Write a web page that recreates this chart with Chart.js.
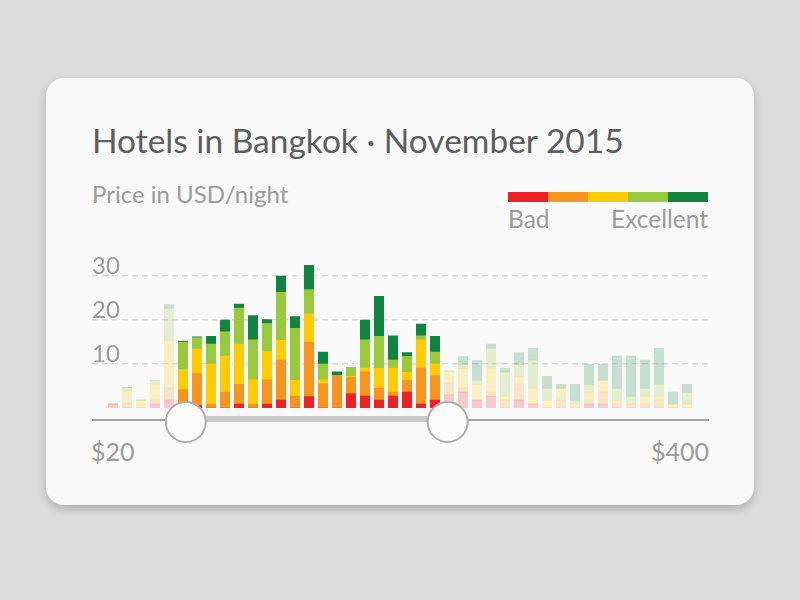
<!DOCTYPE html>
<html>
<head>
<meta charset="utf-8">
<script src="https://cdn.jsdelivr.net/npm/chart.js@4/dist/chart.umd.min.js"></script>
<style>
  html, body { margin: 0; padding: 0; width: 800px; height: 600px; background: #dcdcdc; overflow: hidden; }
  body { font-family: Lato, "Noto Sans", sans-serif; }
  .card { position: absolute; left: 46px; top: 78px; width: 708px; height: 427px; background: #f9f9f9;
          border-radius: 18px; box-shadow: 0 4px 10px rgba(0,0,0,0.22); }
  .txt { position: absolute; line-height: 1; white-space: nowrap; }
  #title { left: 92px; top: 123.5px; font-size: 33.5px; color: #5e5e5e; }
  #sub { left: 92px; top: 181.5px; font-size: 24px; color: #9b9b9b; }
  #bad { left: 508px; top: 206.5px; font-size: 24.5px; color: #9b9b9b; }
  #exc { right: 92px; top: 206.5px; font-size: 24.5px; color: #9b9b9b; }
  #lo { left: 91px; top: 439px; font-size: 25px; color: #9b9b9b; }
  #hi { right: 91px; top: 439px; font-size: 25px; color: #9b9b9b; }
  .scale { position: absolute; left: 508px; top: 192px; height: 10px; width: 200px; display: flex; }
  .scale div { flex: 1; }
  #wrap { position: absolute; left: 0; top: 0; width: 800px; height: 600px; }
</style>
</head>
<body>
<div class="card"></div>
<div class="txt" id="title">Hotels in Bangkok · November 2015</div>
<div class="txt" id="sub">Price in USD/night</div>
<div class="scale" id="scale"></div>
<div class="txt" id="bad">Bad</div>
<div class="txt" id="exc">Excellent</div>
<div class="txt" id="lo">$20</div>
<div class="txt" id="hi">$400</div>
<div id="wrap"><canvas id="myChart"></canvas></div>
<script>
// hotel counts per price bucket, split by rating
let ratings = ['Bad', 'Poor', 'Average', 'Good', 'Excellent'];
let colorHex = ['#ed2125', '#f7941e', '#ffcb05', '#98c93c', '#10843f'];
let bad       = [0.9,0,0,0.9,1.8, 0,0.5,0,0,0.9, 0,0.9,1.8,0,2.6, 0,0,3.3,2.7,1.8, 2.7,3.6,0.9,1.8,3.0, 3.6,1.8,2.7,0,1.8, 0.9,0,0,0,0.9, 0.9,0,0,0,0, 0,0];
let poor      = [0,1.0,0,0.9,2.7, 4.2,7.3,0.9,3.6,4.5, 0.9,5.5,9.1,2.7,12.4, 5.5,7.3,3.6,5.5,2.7, 0.9,2.7,8.2,5.5,2.7, 0.9,0,0.9,1.8,3.6, 0,0,1.8,0,0.9, 2.7,0.9,0.9,0.9,1.8, 0,0];
let average   = [0,2.9,1.8,3.7,10.9, 4.6,5.6,9.1,8.2,9.1, 5.5,6.4,4.5,3.6,6.4, 0.9,0,0.3,0.9,4.5, 5.5,1.8,6.4,2.7,2.7, 4.5,3.6,5.5,0.9,1.8, 3.6,1.8,2.7,0.9,1.8, 2.7,0.9,0,1.8,0.9, 0.9,0.9];
let good      = [0,0.8,0,0.8,7.3, 6.2,2.6,4.5,5.5,8.2, 9.1,6.4,10.9,11.8,5.5, 3.6,0,2.0,6.4,7.3, 1.8,3.6,0.9,2.7,0, 0.9,0.9,4.5,5.5,2.7, 6.4,2.7,0,0.9,1.8, 0,2.7,1.8,1.8,2.7, 0,2.7];
let excellent = [0,0,0,0,0.8, 0.2,0.2,1.8,2.7,0.9, 5.5,0.9,3.7,2.7,5.5, 2.7,0.9,0,4.5,9.1, 5.5,0.9,2.7,3.6,0, 1.8,4.5,0.9,0.9,2.7, 2.7,2.7,0.9,3.6,4.5, 3.6,7.3,9.1,6.4,8.2, 2.7,1.8];
let yTicks = [10, 20, 30];
// selected price range (bucket index) and slider handle positions
let selFrom = 5, selTo = 23;
let handles = [5.2, 23.9];

let series = [bad, poor, average, good, excellent];

function fade(hex, a) {
  let r = parseInt(hex.slice(1,3),16), g = parseInt(hex.slice(3,5),16), b = parseInt(hex.slice(5,7),16);
  return 'rgba(' + r + ',' + g + ',' + b + ',' + a + ')';
}

document.getElementById('scale').innerHTML = colorHex.map(c => '<div style="background:' + c + '"></div>').join('');

let sliderPlugin = {
  id: 'slider',
  afterDatasetsDraw(chart) {
    let c = chart.ctx, x = chart.scales.x, area = chart.chartArea;
    let h1 = x.getPixelForValue(handles[0]), h2 = x.getPixelForValue(handles[1]);
    c.save();
    c.fillStyle = '#a3a3a3';
    c.fillRect(area.left, 419, area.right - area.left, 2);
    c.fillStyle = '#cbcbcb';
    c.fillRect(h1, 416, h2 - h1, 6);
    [h1, h2].forEach(px => {
      c.beginPath();
      c.arc(px, 422, 20, 0, Math.PI * 2);
      c.fillStyle = '#fafafa';
      c.fill();
      c.lineWidth = 2;
      c.strokeStyle = '#adadad';
      c.stroke();
    });
    c.restore();
  }
};

let ctx = document.getElementById('myChart').getContext('2d');
let myChart = new Chart(ctx, {
  type: 'bar',
  data: {
    datasets: series.map((vals, i) => ({
      label: ratings[i],
      data: vals.map((v, k) => ({ x: k, y: v })),
      backgroundColor: vals.map((v, k) => (k >= selFrom && k <= selTo) ? colorHex[i] : fade(colorHex[i], 0.22)),
      barThickness: 9.4,
      borderWidth: 0
    }))
  },
  options: {
    responsive: true,
    maintainAspectRatio: false,
    animation: false,
    layout: { padding: { left: 92, right: 91, top: 258.4, bottom: 192 } },
    plugins: { legend: { display: false }, tooltip: { enabled: false } },
    scales: {
      x: {
        type: 'linear', stacked: true, offset: false,
        min: -1.5, max: 42.57,
        display: false,
        afterFit: s => { s.height = 0; }
      },
      y: {
        stacked: true, min: 0, max: 34,
        grid: { color: '#d9d9d9', lineWidth: 1.5, drawTicks: false },
        border: { display: false, dash: [6, 4] },
        afterBuildTicks: s => { s.ticks = yTicks.map(v => ({ value: v })); },
        afterFit: s => { s.width = 0; },
        ticks: {
          mirror: true, padding: 0, labelOffset: -10,
          color: '#9b9b9b',
          font: { family: 'Lato', size: 24 }
        }
      }
    }
  },
  plugins: [sliderPlugin]
});
</script>
</body>
</html>
